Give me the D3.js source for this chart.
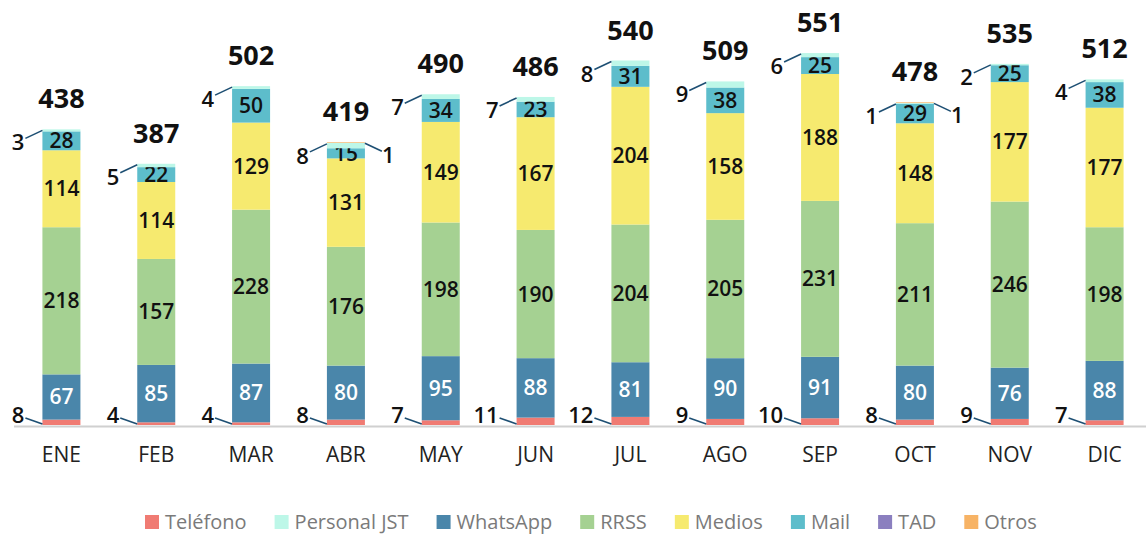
<!DOCTYPE html>
<html><head><meta charset="utf-8">
<script src="https://cdn.jsdelivr.net/npm/d3@7"></script>
<style>
html,body{margin:0;padding:0;background:#fff;}
svg{display:block;font-family:"Open Sans",sans-serif;}
</style></head>
<body><svg id="c" width="1146" height="535"></svg>
<script>
const months = ["ENE","FEB","MAR","ABR","MAY","JUN","JUL","AGO","SEP","OCT","NOV","DIC"];
const telefono = [8,4,4,8,7,11,12,9,10,8,9,7];
const whatsapp = [67,85,87,80,95,88,81,90,91,80,76,88];
const rrss     = [218,157,228,176,198,190,204,205,231,211,246,198];
const medios   = [114,114,129,131,149,167,204,158,188,148,177,177];
const mail     = [28,22,50,15,34,23,31,38,25,29,25,38];
const personal = [3,5,4,8,7,7,8,9,6,1,2,4];
const tad      = [0,0,0,0,0,0,0,0,0,0,0,0];
const otros    = [0,0,0,1,0,0,0,0,0,1,0,0];
const legendNames = ["Teléfono","Personal JST","WhatsApp","RRSS","Medios","Mail","TAD","Otros"];

const colors = {
  "Teléfono":"#f07b73","Personal JST":"#bdf7e8","WhatsApp":"#4a86aa","RRSS":"#a5d192",
  "Medios":"#f6ea6f","Mail":"#5dbdcb","TAD":"#8b7fbf","Otros":"#f7b365"
};
const seriesData = {
  "Teléfono":telefono,"Personal JST":personal,"WhatsApp":whatsapp,"RRSS":rrss,
  "Medios":medios,"Mail":mail,"TAD":tad,"Otros":otros
};
const stackOrder = ["Teléfono","WhatsApp","RRSS","Medios","Mail","Personal JST","TAD","Otros"];
const inside = {"WhatsApp":"#fff","RRSS":"#111","Medios":"#111","Mail":"#111"};

const rows = months.map((m,i)=>{
  const r = {month:m};
  stackOrder.forEach(k=>r[k]=seriesData[k][i]);
  return r;
});
const stacked = d3.stack().keys(stackOrder)(rows);

const svg = d3.select("#c");
const x = d3.scalePoint().domain(months).range([14,1152]).padding(0.5);
const y = d3.scaleLinear().domain([0,600]).range([425,20]);
const bw = 38;
const lead = "#1d4f73";

svg.append("line").attr("x1",14).attr("x2",1146).attr("y1",426.5).attr("y2",426.5)
  .attr("stroke","#d0d0d0").attr("stroke-width",2);

stacked.forEach(s=>{
  svg.append("g").selectAll("rect").data(s).join("rect")
    .attr("x",d=>x(d.data.month)-bw/2)
    .attr("y",d=>y(d[1]))
    .attr("width",bw)
    .attr("height",d=>Math.max(0,y(d[0])-y(d[1])))
    .attr("fill",colors[s.key]);
  if (inside[s.key]) {
    svg.append("g").selectAll("text").data(s).join("text")
      .attr("x",d=>x(d.data.month))
      .attr("y",d=>(y(d[0])+y(d[1]))/2+7.5)
      .attr("text-anchor","middle")
      .attr("font-size",21).attr("font-weight",600)
      .attr("fill",inside[s.key])
      .text(d=>d[1]-d[0]);
  }
});

const gOut = svg.append("g");
months.forEach((m,i)=>{
  const cx = x(m), bl = cx-bw/2, br = cx+bw/2;
  const y0 = y(0);
  gOut.append("line").attr("x1",bl-17).attr("y1",y0-7).attr("x2",bl).attr("y2",y0-1)
    .attr("stroke",lead).attr("stroke-width",1.6);
  gOut.append("text").attr("x",bl-18).attr("y",y0-2).attr("text-anchor","end")
    .attr("font-size",22).attr("font-weight",600).attr("fill","#111").text(telefono[i]);
  const pTop = y(stacked[5][i][1]);
  gOut.append("line").attr("x1",bl-17).attr("y1",pTop+9).attr("x2",bl).attr("y2",pTop+1)
    .attr("stroke",lead).attr("stroke-width",1.6);
  gOut.append("text").attr("x",bl-18).attr("y",pTop+21).attr("text-anchor","end")
    .attr("font-size",22).attr("font-weight",600).attr("fill","#111").text(personal[i]);
  const extra = tad[i]+otros[i];
  const total = stackOrder.reduce((a,k)=>a+seriesData[k][i],0);
  const tTop = y(total);
  if (extra>0){
    gOut.append("line").attr("x1",br).attr("y1",tTop+1).attr("x2",br+17).attr("y2",tTop+9)
      .attr("stroke",lead).attr("stroke-width",1.6);
    gOut.append("text").attr("x",br+17).attr("y",tTop+21).attr("text-anchor","start")
      .attr("font-size",22).attr("font-weight",600).attr("fill","#111").text(extra);
  }
  gOut.append("text").attr("x",cx).attr("y",tTop-21).attr("text-anchor","middle")
    .attr("font-size",27).attr("font-weight",700).attr("fill","#111").text(total);
  gOut.append("text").attr("x",cx).attr("y",462).attr("text-anchor","middle")
    .attr("font-size",21).attr("fill","#222").text(m);
});

const lg = svg.append("g");
let lx = 145;
legendNames.forEach(n=>{
  lg.append("rect").attr("x",lx).attr("y",515).attr("width",14).attr("height",14).attr("fill",colors[n]);
  const t = lg.append("text").attr("x",lx+20).attr("y",529).attr("font-size",20)
    .attr("fill","#7a7a7a").text(n);
  lx += 20 + t.node().getComputedTextLength() + 28;
});
</script></body></html>
